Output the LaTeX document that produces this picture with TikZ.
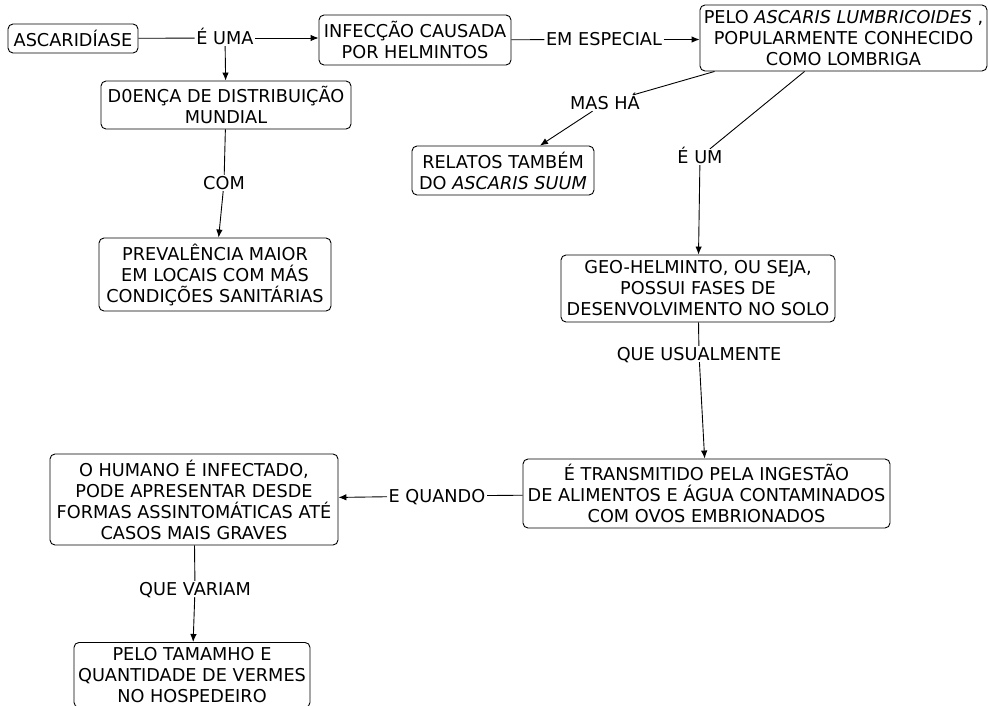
\documentclass[tikz,border=0pt]{standalone}
\usepackage{fontspec}
\setmainfont{DejaVu Sans}
\usetikzlibrary{arrows.meta}
\begin{document}
\begin{tikzpicture}[x=1pt,y=-1pt,
  font=\fontsize{17.7}{21}\selectfont,
  concept/.style={draw, rounded corners=5pt, align=center, inner sep=1pt, line width=0.9pt},
  linkword/.style={inner sep=1.5pt, text height=12.9pt, text depth=0pt},
  link/.style={line width=0.9pt},
  arr/.style={link, -{Latex[length=8pt,width=6.5pt]}}]
\useasboundingbox (0,0) rectangle (988,705);

% concepts
\node[concept, minimum width=130, minimum height=29] (asc) at (73,38.5) {ASCARIDÍASE};
\node[concept, minimum width=192, minimum height=50] (inf) at (415,40) {INFECÇÃO CAUSADA\\POR HELMINTOS};
\node[concept, minimum width=287, minimum height=66] (pelo) at (843.5,38) {PELO \textit{ASCARIS LUMBRICOIDES} ,\\POPULARMENTE CONHECIDO\\COMO LOMBRIGA};
\node[concept, minimum width=250, minimum height=48] (d0) at (226,105) {D0ENÇA DE DISTRIBUIÇÃO\\MUNDIAL};
\node[concept, minimum width=182, minimum height=49] (relatos) at (503,170.5) {RELATOS TAMBÉM\\DO \textit{ASCARIS SUUM}};
\node[concept, minimum width=232, minimum height=73] (prev) at (215,274.5) {PREVALÊNCIA MAIOR\\EM LOCAIS COM MÁS\\CONDIÇÕES SANITÁRIAS};
\node[concept, minimum width=274, minimum height=67] (geo) at (698,288.5) {GEO-HELMINTO, OU SEJA,\\POSSUI FASES DE\\DESENVOLVIMENTO NO SOLO};
\node[concept, minimum width=367, minimum height=69] (trans) at (706.5,493.5) {É TRANSMITIDO PELA INGESTÃO\\DE ALIMENTOS E ÁGUA CONTAMINADOS\\COM OVOS EMBRIONADOS};
\node[concept, minimum width=288, minimum height=91] (hum) at (194,499.5) {O HUMANO É INFECTADO,\\PODE APRESENTAR DESDE\\FORMAS ASSINTOMÁTICAS ATÉ\\CASOS MAIS GRAVES};
\node[concept, minimum width=236, minimum height=65, anchor=north] (tam) at (192,642) {PELO TAMAMHO E\\QUANTIDADE DE VERMES\\NO HOSPEDEIRO};

% linking words
\node[linkword] (euma) at (225,38) {É UMA};
\node[linkword] (espec) at (604,39.5) {EM ESPECIAL};
\node[linkword] (mash) at (605,103) {MAS HÁ};
\node[linkword] (eum) at (700,157) {É UM};
\node[linkword] (com) at (224,183) {COM};
\node[linkword] (qu) at (699,354) {QUE USUALMENTE};
\node[linkword] (equando) at (437,496) {E QUANDO};
\node[linkword] (qv) at (195,589) {QUE VARIAM};

% connectors
\draw[link] (asc) -- (euma);
\draw[arr] (euma) -- (euma -| inf.west);
\draw[arr] (euma) -- (d0);
\draw[link] (inf) -- (espec);
\draw[arr] (espec) -- (espec -| pelo.west);
\draw[link] ([xshift=15pt]pelo.south west) -- (mash);
\draw[arr] (mash) -- ([xshift=37pt]relatos.north);
\draw[link] ([xshift=105pt]pelo.south west) -- (eum);
\draw[arr] (eum) -- (geo);
\draw[link] (d0) -- (com);
\draw[arr] (com) -- (prev);
\draw[link] (geo) -- (qu);
\draw[arr] (qu) -- (trans);
\draw[link] (trans) -- (equando);
\draw[arr] (equando) -- (hum);
\draw[link] (hum) -- (qv);
\draw[arr] (qv) -- (tam);
\end{tikzpicture}
\end{document}
